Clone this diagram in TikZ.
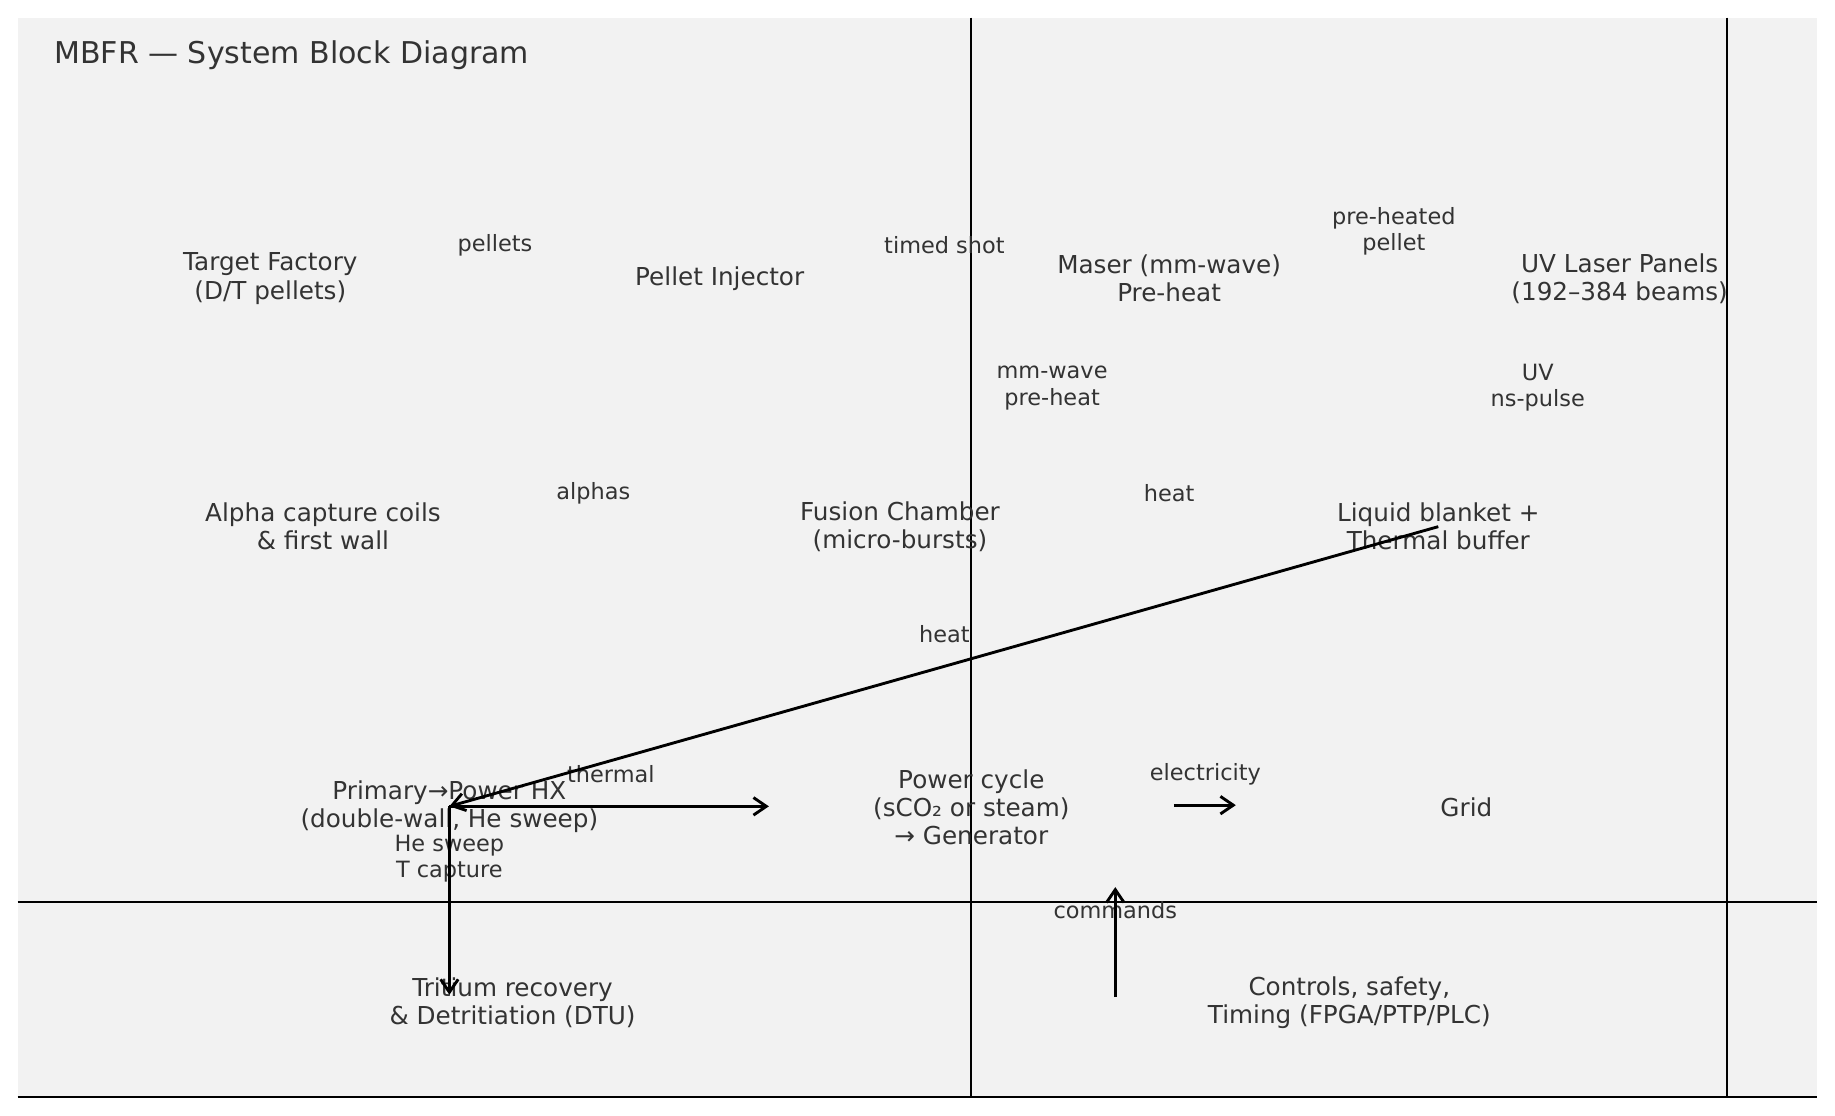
\documentclass[tikz,border=0pt]{standalone}
\usepackage{fontspec}
\setmainfont{DejaVu Sans}
\usetikzlibrary{arrows.meta}
\definecolor{panel}{HTML}{F2F2F2}
\definecolor{ink}{HTML}{333333}

\begin{document}
\begin{tikzpicture}[x=0.02cm,y=-0.02cm]
\tikzset{block/.style = {text=ink, align=center, inner sep=0pt, font=\fontsize{12}{13.7}\selectfont}}
\tikzset{tag/.style = {text=ink, align=center, inner sep=0pt, font=\fontsize{10.9}{12.8}\selectfont}}
\tikzset{flow/.style = {-{Straight Barb[length=0.22cm,width=0.3cm]}, line width=1.4pt}}
\tikzset{gridline/.style = {line width=1.1pt}}
\useasboundingbox (0,0) rectangle (1568,952.8);
\fill[panel] (15,15) rectangle (1553,937);
\draw[gridline] (830,15) -- (830,937);
\draw[gridline] (1476,15) -- (1476,937);
\draw[gridline] (15,771) -- (1553,771);
\draw[gridline, line width=0.9pt] (15,937) -- (1553,937);
\node[text=ink, anchor=west, inner sep=0pt, font=\fontsize{14.6}{17}\selectfont] (title) at (46,47) {MBFR — System Block Diagram};
% blocks
\node[block](tf) at (231,238) {Target Factory\\(D/T pellets)};
\node[block](pi) at (615,238) {Pellet Injector};
\node[block](ms) at (999,238) {Maser (mm-wave)\\Pre-heat};
\node[block](uv) at (1384,238) {UV Laser Panels\\(192–384 beams)};
\node[block](ac) at (276,450) {Alpha capture coils\\\& first wall};
\node[block](fc) at (769,450) {Fusion Chamber\\(micro-bursts)};
\node[block](lb) at (1229,450) {Liquid blanket +\\Thermal buffer};
\node[block](hx) at (384,689) {Primary→Power HX\\(double-wall, He sweep)};
\node[block](pc) at (830,690) {Power cycle\\(sCO₂ or steam)\\→ Generator};
\node[block](gr) at (1253,690) {Grid};
\node[block](tr) at (438,857) {Tritium recovery\\\& Detritiation (DTU)};
\node[block](ct) at (1153,857) {Controls, safety,\\Timing (FPGA/PTP/PLC)};
% labels
\node[tag](l1) at (423,209.5) {pellets};
\node[tag](l2) at (807,209.5) {timed shot};
\node[tag](l3) at (1191,197.5) {pre-heated\\pellet};
\node[tag](l4) at (899,331.5) {mm-wave\\pre-heat};
\node[tag](l5) at (1314,331.5) {UV\\ns-pulse};
\node[tag](l6) at (507,421.5) {alphas};
\node[tag](l7) at (999,421.5) {heat};
\node[tag](l8) at (807,541.5) {heat};
\node[tag](l9) at (522,661.5) {thermal};
\node[tag](l10) at (1030,661.5) {electricity};
\node[tag](l11) at (384,733.5) {He sweep\\T capture};
\node[tag](l12) at (953,777.5) {commands};
% arrows
\coordinate (hxout) at (657,689);
\coordinate (el0) at (1003,688);
\coordinate (el1) at (1056,688);
\coordinate (trin) at (384,850);
\coordinate (cm0) at (953,852);
\coordinate (cm1) at (953,758);
\draw[flow] (lb.center) to (hx.center);
\draw[flow] (hx.center) to (hxout);
\draw[flow] (el0) to (el1);
\draw[flow] (hx.center) to (trin);
\draw[flow] (cm0) to (cm1);
\end{tikzpicture}
\end{document}
